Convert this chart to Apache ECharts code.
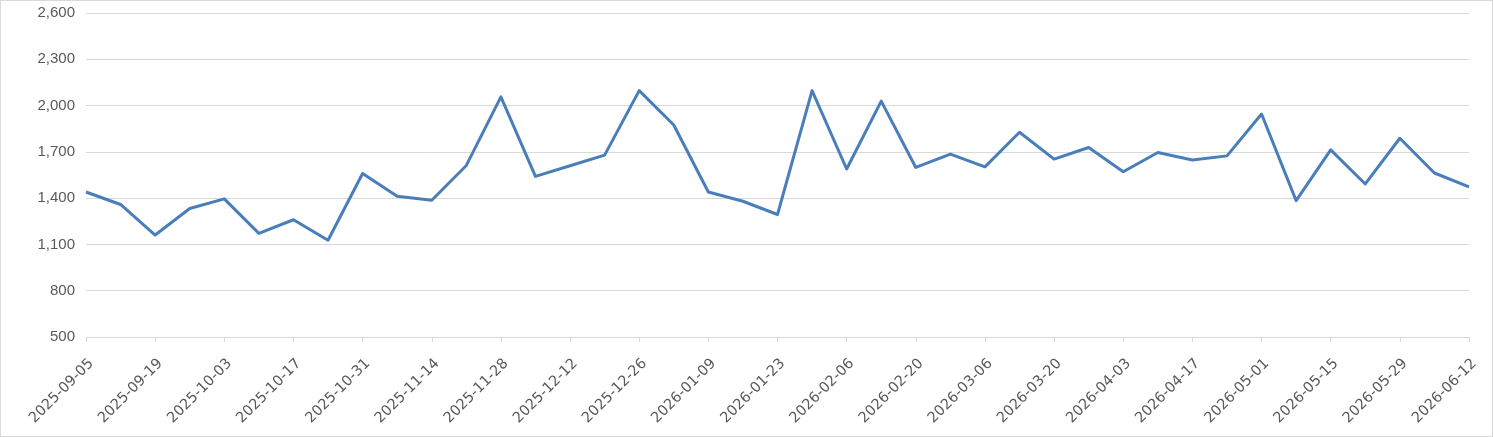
<!DOCTYPE html>
<html>
<head>
<meta charset="utf-8">
<script src="https://cdn.jsdelivr.net/npm/echarts@6/dist/echarts.min.js"></script>
<style>
  html, body { margin: 0; padding: 0; background: #fff; }
  #chart { width: 1493px; height: 437px; box-sizing: border-box; border: 1px solid #d9d9d9; }
</style>
</head>
<body>
<div id="chart"></div>
<script>
// weekly dates, one per Friday
const dates = [
  '2025-09-05', '2025-09-12', '2025-09-19', '2025-09-26', '2025-10-03', '2025-10-10',
  '2025-10-17', '2025-10-24', '2025-10-31', '2025-11-07', '2025-11-14', '2025-11-21',
  '2025-11-28', '2025-12-05', '2025-12-12', '2025-12-19', '2025-12-26', '2026-01-02',
  '2026-01-09', '2026-01-16', '2026-01-23', '2026-01-30', '2026-02-06', '2026-02-13',
  '2026-02-20', '2026-02-27', '2026-03-06', '2026-03-13', '2026-03-20', '2026-03-27',
  '2026-04-03', '2026-04-10', '2026-04-17', '2026-04-24', '2026-05-01', '2026-05-08',
  '2026-05-15', '2026-05-22', '2026-05-29', '2026-06-05', '2026-06-12'
];

const values = [
  1440, 1359, 1161, 1333, 1395, 1172, 1260, 1127, 1560, 1412, 1386, 1612,
  2056, 1541, 1610, 1679, 2097, 1874, 1440, 1380, 1294, 2097, 1589, 2029,
  1599, 1685, 1603, 1827, 1653, 1728, 1571, 1696, 1647, 1674, 1945, 1384,
  1713, 1492, 1788, 1563, 1473
];

const yMin = 500;
const yMax = 2600;
const yStep = 300;

const chart = echarts.init(document.getElementById('chart'), null, { renderer: 'canvas' });

chart.setOption({
  animation: false,
  grid: { left: 85, right: 23, top: 12, bottom: 99 },
  xAxis: {
    type: 'category',
    data: dates,
    boundaryGap: false,
    axisLine: { lineStyle: { color: '#d9d9d9', width: 1 } },
    axisTick: { interval: 1, length: 5, lineStyle: { color: '#d9d9d9' } },
    axisLabel: {
      interval: 1,
      rotate: 45,
      margin: 19,
      verticalAlign: 'top',
      color: '#595959',
      fontFamily: 'DejaVu Sans',
      fontSize: 14.5
    },
    splitLine: { show: false }
  },
  yAxis: {
    type: 'value',
    min: yMin,
    max: yMax,
    interval: yStep,
    axisLine: { show: false },
    axisTick: { show: false },
    axisLabel: {
      margin: 11,
      color: '#595959',
      fontFamily: 'Liberation Sans',
      fontSize: 15,
      formatter: v => v.toLocaleString('en-US')
    },
    splitLine: { lineStyle: { color: '#d9d9d9', width: 1 } }
  },
  series: [{
    type: 'line',
    data: values,
    showSymbol: false,
    symbol: 'none',
    lineStyle: { color: '#4a7ebb', width: 3, join: 'round' }
  }]
});
</script>
</body>
</html>
